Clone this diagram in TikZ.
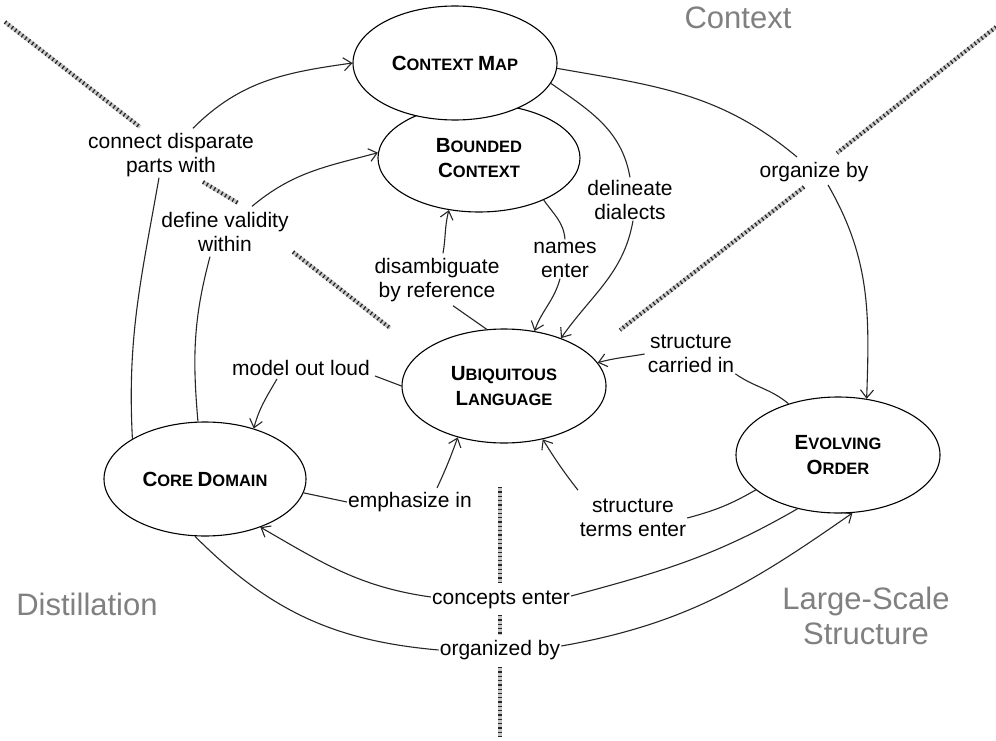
\documentclass[tikz,border=0pt]{standalone}
\usepackage{fontspec}
\setmainfont{Liberation Sans}
\usetikzlibrary{shapes.geometric,arrows.meta}
\newcommand{\Lg}[1]{{\fontsize{20.5}{25}\selectfont #1}}
\begin{document}
\begin{tikzpicture}[x=1pt,y=-1pt,
  concept/.style={ellipse, draw, line width=1.1pt, fill=white, inner sep=0pt, align=center,
    font=\fontsize{16.5}{25}\selectfont\bfseries},
  lbl/.style={align=center, inner sep=1pt, font=\fontsize{21}{23.5}\selectfont},
  region/.style={align=center, inner sep=0pt, text=black!50, font=\fontsize{31}{35}\selectfont},
  link/.style={line width=1.1pt, draw=black!85},
  arr/.style={link, -{Straight Barb[length=8pt,width=13pt]}},
  band/.style={line width=4pt, draw=black!22,
    postaction={draw=black!85, line width=4pt, dash pattern=on 1.3pt off 3pt}}
]
\fill[white] (0,0) rectangle (996,741);
\useasboundingbox (0,0) rectangle (996,741);

% region boundaries
\draw[band] (5,22) -- (140,127);
\draw[band] (203,182) -- (238,203);
\draw[band] (293,252) -- (390,328);
\draw[band] (996,27) -- (837,153);
\draw[band] (804,187) -- (620,330);
\draw[band] (500,487) -- (500,583);
\draw[band] (500,615) -- (500,635);
\draw[band] (500,667) -- (500,737);

% region names
\node[region] (rctx) at (738,18) {Context};
\node[region] (rdist) at (87,604) {Distillation};
\node[region] (rlss) at (866,616) {Large-Scale\\Structure};

% concepts
\node[concept, minimum width=202pt, minimum height=108pt] (bc) at (479,158) {\Lg{B}OUNDED\\\Lg{C}ONTEXT};
\node[concept, minimum width=204pt, minimum height=114pt] (cm) at (455,63) {\Lg{C}ONTEXT \Lg{M}AP};
\node[concept, minimum width=204pt, minimum height=114pt] (ul) at (504,386) {\Lg{U}BIQUITOUS\\\Lg{L}ANGUAGE};
\node[concept, minimum width=202pt, minimum height=114pt] (cd) at (205,479) {\Lg{C}ORE \Lg{D}OMAIN};
\node[concept, minimum width=204pt, minimum height=116pt] (eo) at (838,455) {\Lg{E}VOLVING\\\Lg{O}RDER};

% labels
\node[lbl] (conn) at (171,155) {connect disparate\\parts with};
\node[lbl] (def) at (225,232) {define validity\\within};
\node[lbl] (model) at (301,368) {model out loud};
\node[lbl] (emph) at (410,502) {emphasize in};
\node[lbl] (disamb) at (437,280) {disambiguate\\by reference};
\node[lbl] (names) at (565,260) {names\\enter};
\node[lbl] (delin) at (630,200) {delineate\\dialects};
\node[lbl] (org) at (814,172) {organize by};
\node[lbl] (carried) at (691,354) {structure\\carried in};
\node[lbl] (terms) at (633,518) {structure\\terms enter};
\node[lbl] (concepts) at (501,600) {concepts enter};
\node[lbl] (orgby) at (500,650) {organized by};

% connectors
\draw[link] (cd.151) to[out=93,in=-100] ([xshift=-12pt]conn.south);
\draw[arr] ([xshift=22pt,yshift=4pt]conn.north) to[out=45,in=188] (cm.west);

\draw[link] (cd.97) to[out=95,in=-105] ([xshift=-15pt,yshift=-4pt]def.south);
\draw[arr] ([xshift=27pt,yshift=5pt]def.north) to[out=40,in=195] (bc.177);

\draw[link] (ul.west) -- ([xshift=4pt,yshift=-8pt]model.east);
\draw[arr] ([xshift=-24pt,yshift=-2pt]model.south) to[out=-120,in=75] (cd.46);

\draw[link] (cd.-8) -- (emph.west);
\draw[arr] ([xshift=27pt,yshift=3pt]emph.north) to[out=65,in=-110] (ul.-132);

\draw[link] (ul.107) to[out=145,in=-35] ([xshift=16pt,yshift=-3pt]disamb.south);
\draw[arr] ([xshift=6pt,yshift=4pt]disamb.north) to[out=80,in=-105] (bc.-120);

\draw[link] (bc.-33) to[out=-55,in=95] ([yshift=2pt]names.north);
\draw[arr] ([xshift=-5pt]names.south) to[out=-105,in=70] (ul.61);

\draw[link] (cm.-12) to[out=-35,in=100] ([yshift=2pt]delin.north);
\draw[arr] ([xshift=3pt]delin.south) to[out=-100,in=55] (ul.40);

\draw[link] (cm.-3) to[out=-10,in=140] ([xshift=-17pt,yshift=4pt]org.north);
\draw[arr] ([xshift=14pt,yshift=-2pt]org.south) to[out=-60,in=88] (eo.63);

\draw[link] (eo.134) to[out=140,in=-35] (carried.south east);
\draw[arr] ([xshift=-2pt]carried.west) to[out=190,in=15] (ul.14);

\draw[link] (eo.-157) to[out=-150,in=15] (terms.east);
\draw[arr] ([xshift=-55pt,yshift=8pt]terms.north) to[out=128,in=-58] (ul.-54);

\draw[link] (eo.-127) to[out=-150,in=15] ([yshift=4pt]concepts.east);
\draw[arr] ([yshift=3pt]concepts.west) to[out=172,in=-30] (cd.-41);

\draw[link] (cd.-100) to[out=-45,in=175] (orgby.west);
\draw[arr] ([yshift=4pt]orgby.east) to[out=10,in=-145] (eo.-76);
\end{tikzpicture}
\end{document}
